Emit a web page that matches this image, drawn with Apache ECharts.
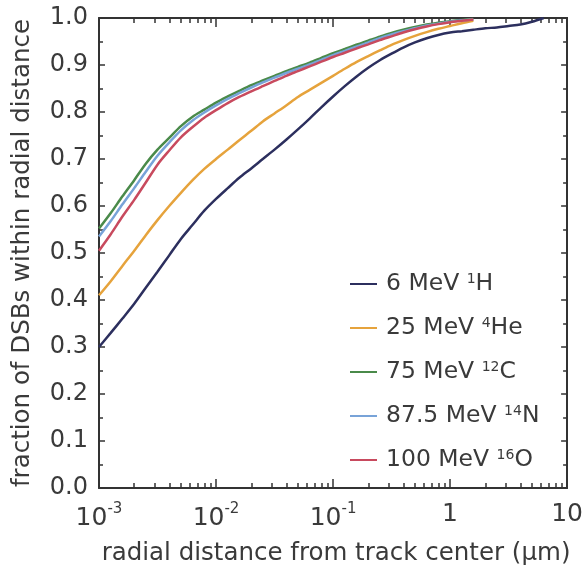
<!DOCTYPE html>
<html>
<head>
<meta charset="utf-8">
<script src="https://cdn.jsdelivr.net/npm/echarts@6/dist/echarts.min.js"></script>
<style>
html,body{margin:0;padding:0;background:#fff;}
#chart{width:586px;height:572px;}
</style>
</head>
<body>
<div id="chart"></div>
<script>
// radial distance (µm)
const distance = [0.001,0.00126,0.00158,0.002,0.00251,0.00316,0.00398,0.00501,0.00631,0.00794,
  0.01,0.0126,0.0158,0.02,0.0251,0.0316,0.0398,0.0501,0.0631,0.0794,
  0.1,0.126,0.158,0.2,0.251,0.316,0.398,0.501,0.631,0.794,
  1,1.26,1.58,2.0,2.51,3.16,3.98,5.01,6.31];

const seriesNames = ['6 MeV 1H','25 MeV 4He','75 MeV 12C','87.5 MeV 14N','100 MeV 16O'];
const legendLabels = ['6 MeV {sup|1}H','25 MeV {sup|4}He','75 MeV {sup|12}C','87.5 MeV {sup|14}N','100 MeV {sup|16}O'];

const fracH = [0.30,0.33,0.36,0.392,0.426,0.46,0.495,0.53,0.56,0.59,
  0.615,0.638,0.66,0.68,0.70,0.72,0.741,0.763,0.786,0.81,
  0.833,0.855,0.875,0.894,0.91,0.924,0.937,0.948,0.957,0.964,
  0.969,0.972,0.975,0.978,0.98,0.983,0.986,0.992,1.0];
const fracHe = [0.41,0.44,0.472,0.505,0.538,0.57,0.6,0.628,0.655,0.679,
  0.70,0.72,0.74,0.76,0.78,0.797,0.814,0.832,0.847,0.862,
  0.877,0.892,0.906,0.919,0.931,0.943,0.953,0.962,0.97,0.977,
  0.983,0.989,0.994];
const fracC = [0.552,0.585,0.62,0.655,0.69,0.72,0.745,0.77,0.79,0.805,
  0.82,0.833,0.845,0.857,0.867,0.877,0.887,0.896,0.905,0.915,
  0.925,0.934,0.943,0.952,0.96,0.968,0.975,0.981,0.986,0.99,
  0.993,0.996,0.998];
const fracN = [0.535,0.568,0.603,0.638,0.673,0.707,0.735,0.761,0.782,0.799,
  0.814,0.828,0.84,0.852,0.863,0.873,0.883,0.892,0.901,0.911,
  0.921,0.93,0.939,0.948,0.957,0.965,0.972,0.978,0.984,0.988,
  0.992,0.995,0.997];
const fracO = [0.505,0.54,0.577,0.613,0.65,0.688,0.718,0.746,0.768,0.788,
  0.804,0.819,0.832,0.844,0.855,0.866,0.877,0.887,0.897,0.907,
  0.917,0.926,0.935,0.944,0.953,0.961,0.969,0.976,0.982,0.987,
  0.991,0.994,0.997];

const colors = ['#2c2f5e','#e6a33c','#4a8a4a','#78a3d8','#c84a5e'];
const minorLogTicks = [0.002,0.003,0.004,0.005,0.006,0.007,0.008,0.009,
  0.02,0.03,0.04,0.05,0.06,0.07,0.08,0.09,
  0.2,0.3,0.4,0.5,0.6,0.7,0.8,0.9,
  2,3,4,5,6,7,8,9];
const xTickLabels = {0.001:'10{sup|-3}',0.01:'10{sup|-2}',0.1:'10{sup|-1}',1:'1',10:'10'};

const FONT = 'DejaVu Sans';
const TXT = '#3a3a3a';
const AX = '#333333';

function pairs(ys){ return ys.map((y,i)=>[distance[i],y]); }
const allY = [fracH,fracHe,fracC,fracN,fracO];

const chart = echarts.init(document.getElementById('chart'), null, {renderer:'canvas'});
const baseX = {type:'log', logBase:10, min:0.001, max:10, gridIndex:0};
chart.setOption({
  animation:false,
  backgroundColor:'#ffffff',
  grid:{left:99, right:16, top:18, bottom:84},
  legend:{
    orient:'vertical', left:345, top:267, itemGap:16,
    icon:'rect', itemWidth:27, itemHeight:2,
    data:seriesNames,
    formatter:function(n){ return legendLabels[seriesNames.indexOf(n)]; },
    textStyle:{fontFamily:FONT, fontSize:23.5, color:TXT, lineHeight:24, padding:[0,0,0,4],
      rich:{sup:{fontFamily:FONT, fontSize:14, color:TXT, verticalAlign:'top', lineHeight:14, padding:[0,0,14,0]}}}
  },
  xAxis:[
    Object.assign({}, baseX, {
      position:'bottom',
      name:'radial distance from track center (μm)', nameLocation:'middle', nameGap:53,
      nameTextStyle:{fontFamily:FONT, fontSize:24.5, color:TXT, padding:[0,0,0,6]},
      axisLine:{show:true, lineStyle:{color:AX, width:2}},
      axisTick:{show:true, inside:true, length:9, lineStyle:{color:AX, width:1.5}},
      axisLabel:{margin:14, fontFamily:FONT, fontSize:25, color:TXT,
        formatter:function(v){ const k = Object.keys(xTickLabels).find(t=>Math.abs(+t - v)/v < 1e-6); return k? xTickLabels[k] : ''; },
        rich:{sup:{fontFamily:FONT, fontSize:15, color:TXT, verticalAlign:'top', padding:[0,0,18,0]}}},
      splitLine:{show:false}
    }),
    Object.assign({}, baseX, {
      position:'bottom',
      axisLine:{show:false},
      axisTick:{show:true, inside:true, length:5, customValues:minorLogTicks, lineStyle:{color:AX, width:1.5}},
      axisLabel:{show:false}, splitLine:{show:false}
    }),
    Object.assign({}, baseX, {
      position:'top',
      axisLine:{show:true, lineStyle:{color:AX, width:2}},
      axisTick:{show:true, inside:true, length:9, lineStyle:{color:AX, width:1.5}},
      axisLabel:{show:false}, splitLine:{show:false}
    }),
    Object.assign({}, baseX, {
      position:'top',
      axisLine:{show:false},
      axisTick:{show:true, inside:true, length:5, customValues:minorLogTicks, lineStyle:{color:AX, width:1.5}},
      axisLabel:{show:false}, splitLine:{show:false}
    })
  ],
  yAxis:[
    {type:'value', min:0, max:1, interval:0.1, position:'left',
      name:'fraction of DSBs within radial distance', nameLocation:'middle', nameGap:64,
      nameTextStyle:{fontFamily:FONT, fontSize:24.5, color:TXT},
      axisLine:{show:true, lineStyle:{color:AX, width:2}},
      axisTick:{show:true, inside:true, length:6, lineStyle:{color:AX, width:1.5}},
      minorTick:{show:true, splitNumber:2, length:4, lineStyle:{color:AX, width:1.5}},
      axisLabel:{margin:11, fontFamily:FONT, fontSize:24, color:TXT, formatter:v=>v.toFixed(1)},
      splitLine:{show:false}},
    {type:'value', min:0, max:1, interval:0.1, position:'right',
      axisLine:{show:true, lineStyle:{color:AX, width:2}},
      axisTick:{show:true, inside:true, length:6, lineStyle:{color:AX, width:1.5}},
      minorTick:{show:true, splitNumber:2, length:4, lineStyle:{color:AX, width:1.5}},
      axisLabel:{show:false}, splitLine:{show:false}}
  ],
  series: seriesNames.map((n,i)=>({
    name:n, type:'line', xAxisIndex:0, yAxisIndex:0,
    data:pairs(allY[i]), showSymbol:false, symbol:'none',
    lineStyle:{color:colors[i], width:2.5}, itemStyle:{color:colors[i]},
    smooth:0.3
  }))
});
</script>
</body>
</html>
